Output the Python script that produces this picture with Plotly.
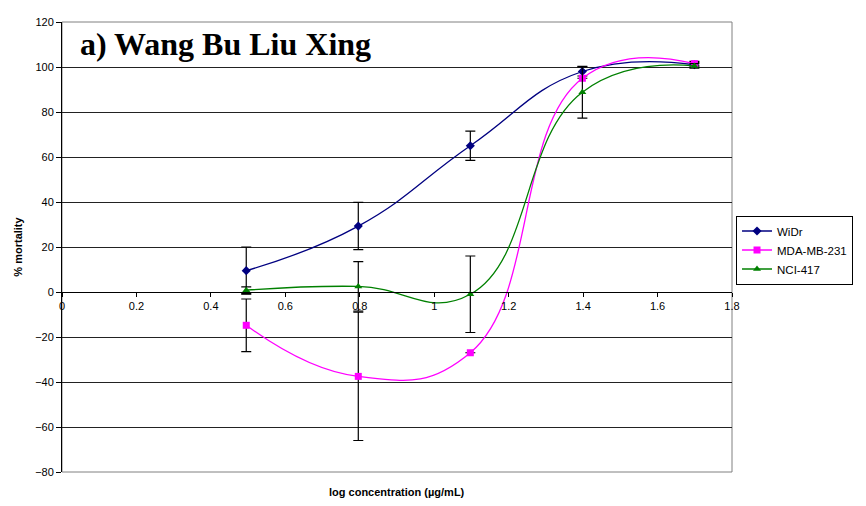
import plotly.graph_objects as go

log_conc = [0.495, 0.796, 1.097, 1.398, 1.699]

widr = [9.5, 29.3, 65.0, 98.0, 101.0]
widr_err = [10.5, 10.5, 6.5, 2.0, 1.0]

mda = [-14.8, -37.5, -27.0, 95.0, 101.5]
mda_err = [11.7, 28.5, 0.0, 0.0, 1.0]

nci = [0.8, 2.5, -1.0, 88.8, 100.5]
nci_err = [1.5, 11.0, 17.0, 11.5, 1.0]

series = [
    ("WiDr", widr, widr_err, "#000080", "diamond"),
    ("MDA-MB-231", mda, mda_err, "#FF00FF", "square"),
    ("NCI-417", nci, nci_err, "#008000", "triangle-up"),
]

fig = go.Figure()
for name, vals, errs, color, sym in series:
    fig.add_trace(go.Scatter(
        x=log_conc, y=vals, name=name, mode="lines+markers",
        line=dict(color=color, width=1.3, shape="spline", smoothing=1.3),
        marker=dict(color=color, symbol=sym, size=7),
        error_y=dict(type="data", array=errs, visible=True, color="black",
                     thickness=1.2, width=5),
    ))

fig.update_layout(
    width=858, height=498,
    margin=dict(l=54, r=134, t=8, b=34),
    paper_bgcolor="white", plot_bgcolor="white",
    font=dict(family="Liberation Sans, Arial", size=11, color="black"),
    xaxis=dict(range=[0, 1.8], dtick=0.2, tick0=0, anchor="free", position=0.4,
               showgrid=False, zeroline=False, showline=True, linecolor="black",
               linewidth=1, ticks="outside", ticklen=4, tickcolor="black",
               tickfont=dict(size=11)),
    yaxis=dict(range=[-80, 120], dtick=20, showgrid=True, gridcolor="#222222",
               gridwidth=1, zeroline=False, showline=True, linecolor="black",
               linewidth=1, ticks="outside", ticklen=5, tickcolor="black",
               tickfont=dict(size=11),
               title=dict(text="<b>% mortality</b>", font=dict(size=11), standoff=10)),
    legend=dict(x=1.006, xanchor="left", y=0.57, yanchor="top",
                bordercolor="black", borderwidth=1, bgcolor="white",
                font=dict(size=11.5), tracegroupgap=0, itemwidth=30),
    showlegend=True,
    shapes=[dict(type="rect", xref="paper", yref="paper", x0=0, x1=1, y0=0, y1=1,
                 line=dict(color="#808080", width=1), layer="below")],
    annotations=[
        dict(text="<b>a) Wang Bu Liu Xing</b>", xref="paper", yref="paper",
             x=0.024, y=0.995, xanchor="left", yanchor="top", showarrow=False,
             font=dict(family="Liberation Serif, Times New Roman", size=32, color="black")),
        dict(text="<b>log concentration (µg/mL)</b>", xref="paper", yref="paper",
             x=0.5, y=0, yshift=-20, xanchor="center", yanchor="middle", showarrow=False,
             font=dict(size=11)),
    ],
)

fig.write_html("out.html")
